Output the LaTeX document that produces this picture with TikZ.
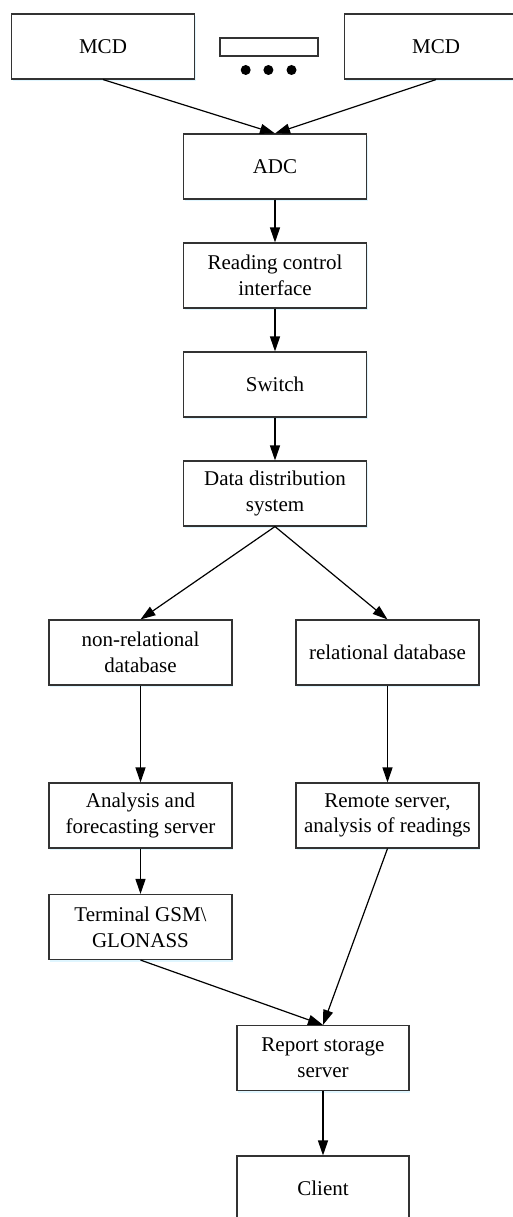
\documentclass[tikz,border=0pt]{standalone}
\usepackage{fontspec}
\setmainfont{Liberation Serif}
\usetikzlibrary{arrows.meta,shadows}
\begin{document}
\begin{tikzpicture}[x=1pt,y=-1pt,
  box/.style={draw=black!80,line width=1.1pt,fill=white,
    minimum width=183pt,minimum height=65pt,inner sep=0pt,align=center,
    font=\fontsize{21}{25.7}\selectfont,
    drop shadow={shadow xshift=1pt,shadow yshift=-2pt,fill=blue!30!cyan!20,opacity=0.6}},
  narrow/.style={box,minimum width=172pt},
  link/.style={line width=1.2pt,-{Triangle[length=15pt,width=10pt]}}]
\useasboundingbox (0,0) rectangle (513,1217);
\clip (0,0) rectangle (513,1217);

% sensors
\node[box] (mcdA) at (103,46.5) {MCD};
\node[box] (mcdB) at (436,46.5) {MCD};
\node[draw=black!80,line width=1.1pt,minimum width=98pt,minimum height=18pt,inner sep=0pt] (mid) at (269,47) {};
\foreach \x in {245.7,268.4,291.5}
  \fill (\x,70) circle (5pt);

% processing chain
\node[box] (adc) at (275,166.5) {ADC};
\node[box] (rci) at (275,275.5) {Reading control\\interface};
\node[box] (sw) at (275,384.5) {Switch};
\node[box] (dds) at (275,493.5) {Data distribution\\system};

\node[box] (nrdb) at (140.5,652.5) {non-relational\\database};
\node[box] (rdb) at (387.5,652.5) {relational database};
\node[box] (afs) at (140.5,815.5) {Analysis and\\forecasting server};
\node[box] (rsv) at (387.5,815.5) {Remote server,\\analysis of readings};
\node[box] (term) at (140.5,927) {Terminal GSM\textbackslash\\GLONASS};
\node[narrow] (rss) at (323,1058) {Report storage\\server};
\node[narrow] (cli) at (323,1188.5) {Client};

% connectors
\draw[link] (mcdA.south) -- (adc.north);
\draw[link] (mcdB.south) -- (adc.north);
\draw[link] (adc) -- (rci);
\draw[link] (rci) -- (sw);
\draw[link] (sw) -- (dds);
\draw[link] (dds.south) -- (nrdb.north);
\draw[link] (dds.south) -- (rdb.north);
\draw[link] (nrdb) -- (afs);
\draw[link] (rdb) -- (rsv);
\draw[link] (afs) -- (term);
\draw[link] (term.south) -- (rss.north);
\draw[link] (rsv.south) -- (rss.north);
\draw[link] (rss) -- (cli);
\end{tikzpicture}
\end{document}
